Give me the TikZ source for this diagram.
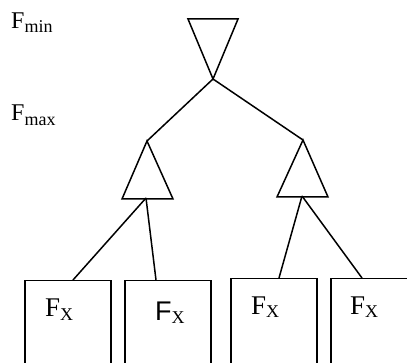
\documentclass[tikz,border=0pt]{standalone}
\usepackage{fontspec}
\setmainfont{Liberation Serif}
\newfontfamily\sansF{Liberation Sans}
\usetikzlibrary{positioning}

\newcommand{\lowsub}[2]{\raisebox{-#1}{\fontsize{18}{20}\selectfont #2}}

\tikzset{
  leaf/.style={draw, line width=1.5pt, anchor=north west, minimum width=86pt, minimum height=130pt, inner sep=0pt},
  lvl/.style={anchor=base west, inner sep=0pt, font=\fontsize{24}{26}\selectfont},
  fx/.style={anchor=base west, inner sep=0pt, font=\fontsize{27}{29}\selectfont},
  edge/.style={line width=1.5pt},
  tri/.style={line width=1.5pt, line join=miter}
}

\begin{document}
\begin{tikzpicture}[x=1pt, y=-1pt]
    \useasboundingbox (0,0) rectangle (407,363);

    % Level labels
    \node[lvl] (fmin) at (11,29) {F\lowsub{4pt}{min}};
    \node[lvl] (fmax) at (11,121) {F\lowsub{5pt}{max}};

    % Triangles
    \coordinate (minapex) at (213,79);
    \coordinate (lapex) at (147,141);
    \coordinate (lbase) at (146,198);
    \coordinate (rapex) at (303,140);
    \coordinate (rbase) at (302,196);
    \draw[tri] (188,19) -- (238,19) -- (minapex) -- cycle;
    \draw[tri] (122,199) -- (173,199) -- (lapex) -- cycle;
    \draw[tri] (277,197) -- (328,197) -- (rapex) -- cycle;

    % Leaves
    \node[leaf] (box1) at (24,280) {};
    \node[leaf] (box2) at (124,280) {};
    \node[leaf] (box3) at (230,278) {};
    \node[leaf] (box4) at (330,278) {};

    \node[fx] (x1) at ([xshift=21pt, yshift=-37pt]box1.north west) {F\lowsub{3pt}{X}};
    \node[fx] (x2) at ([xshift=31pt, yshift=-40pt]box2.north west) {{\sansF F}\lowsub{3pt}{X}};
    \node[fx] (x3) at ([xshift=21pt, yshift=-37pt]box3.north west) {F\lowsub{3pt}{X}};
    \node[fx] (x4) at ([xshift=20pt, yshift=-37pt]box4.north west) {F\lowsub{3pt}{X}};

    % Edges
    \draw[edge] (minapex) -- (lapex);
    \draw[edge] (minapex) -- (rapex);
    \draw[edge] (lbase) -- ([xshift=49pt]box1.north west);
    \draw[edge] (lbase) -- ([xshift=32pt]box2.north west);
    \draw[edge] (rbase) -- ([xshift=49pt]box3.north west);
    \draw[edge] (rbase) -- ([xshift=32pt]box4.north west);
\end{tikzpicture}
\end{document}
